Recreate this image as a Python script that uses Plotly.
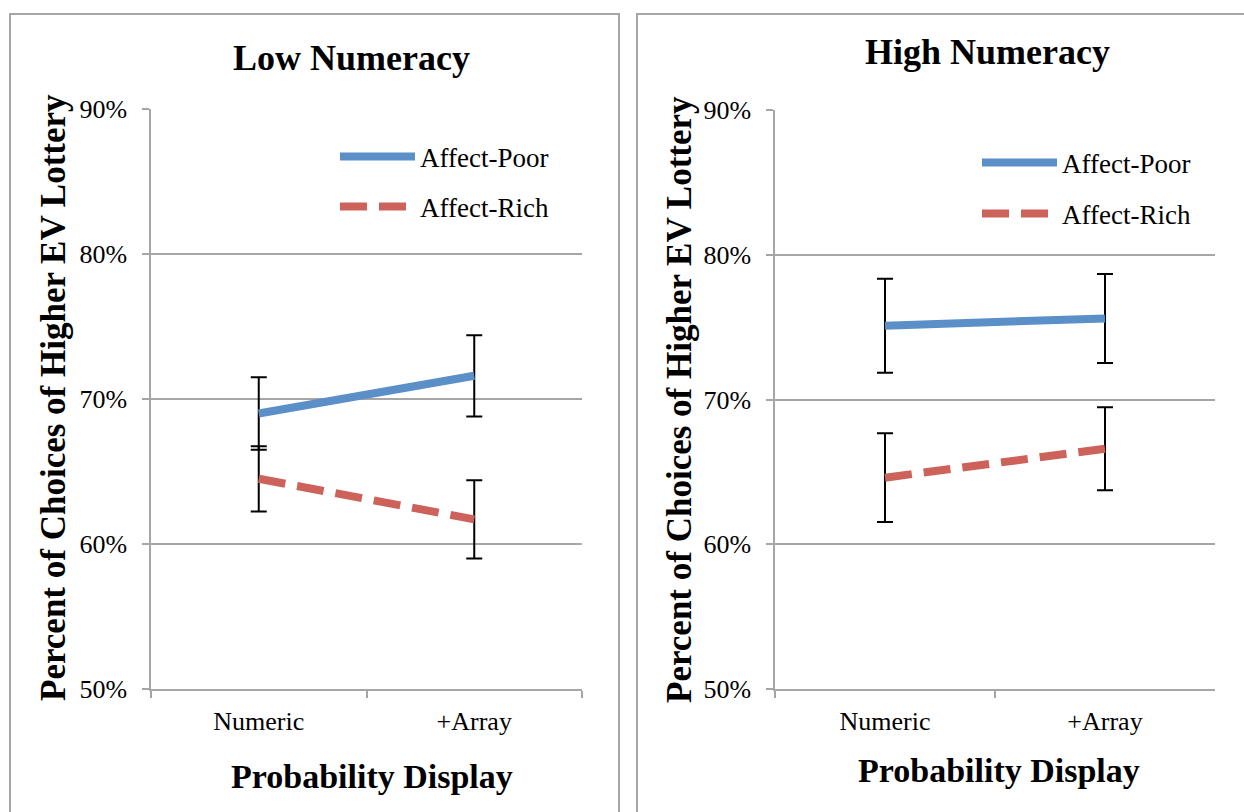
import plotly.graph_objects as go

W, H = 1244, 812

categories = ["Numeric", "+Array"]
series_names = ["Affect-Poor", "Affect-Rich"]

# Low numeracy panel (percent)
low_poor = [69.0, 71.6]
low_poor_err = [2.5, 2.8]
low_rich = [64.5, 61.7]
low_rich_err = [2.25, 2.7]

# High numeracy panel (percent)
high_poor = [75.1, 75.6]
high_poor_err = [3.25, 3.07]
high_rich = [64.6, 66.6]
high_rich_err = [3.07, 2.87]

y_ticks = [50, 60, 70, 80, 90]
y_ticktext = ["50%", "60%", "70%", "80%", "90%"]

panel_titles = ["Low Numeracy", "High Numeracy"]
x_title = "Probability Display"
y_title = "Percent of Choices of Higher EV Lottery"

FONT = "Liberation Serif"
BLUE = "#5b8fc7"
RED = "#cd625a"
GRID = "#a6a6a6"

def px_x(p):
    return p / W

def px_y(p):
    return 1 - p / H

fig = go.Figure()

panels = [
    dict(xa="x", ya="y", poor=low_poor, poor_e=low_poor_err, rich=low_rich, rich_e=low_rich_err,
         leg=("legend", "legend2")),
    dict(xa="x2", ya="y2", poor=high_poor, poor_e=high_poor_err, rich=high_rich, rich_e=high_rich_err,
         leg=("legend3", "legend4")),
]

for p in panels:
    # error bars first (behind the lines)
    for vals, errs in ((p["poor"], p["poor_e"]), (p["rich"], p["rich_e"])):
        fig.add_trace(go.Scatter(
            x=categories, y=vals, mode="markers",
            marker=dict(size=1, color="rgba(0,0,0,0)"),
            error_y=dict(type="data", array=errs, visible=True, color="black", thickness=2, width=8),
            xaxis=p["xa"], yaxis=p["ya"], showlegend=False, hoverinfo="skip",
        ))
    fig.add_trace(go.Scatter(
        x=categories, y=p["poor"], mode="lines", name=series_names[0],
        line=dict(color=BLUE, width=8),
        xaxis=p["xa"], yaxis=p["ya"], legend=p["leg"][0],
    ))
    fig.add_trace(go.Scatter(
        x=categories, y=p["rich"], mode="lines", name=series_names[1],
        line=dict(color=RED, width=8, dash="27px,12px"),
        xaxis=p["xa"], yaxis=p["ya"], legend=p["leg"][1],
    ))

axis_common = dict(showline=True, linecolor=GRID, linewidth=1.5, ticks="outside",
                   tickcolor=GRID, tickwidth=1.5, ticklen=7, zeroline=False,
                   tickfont=dict(family=FONT, size=26, color="black"))

xcommon = dict(axis_common, type="category", range=[-0.5, 1.5], tickson="boundaries",
               showgrid=False, ticklabelstandoff=8)
ycommon = dict(axis_common, range=[50, 90], tickvals=y_ticks, ticktext=y_ticktext,
               showgrid=True, gridcolor=GRID, gridwidth=1.5, ticklabelstandoff=10)

fig.update_layout(
    width=W, height=H, margin=dict(l=0, r=0, t=0, b=0, autoexpand=False),
    paper_bgcolor="white", plot_bgcolor="white",
    xaxis=dict(xcommon, domain=[px_x(151), px_x(582)], anchor="y"),
    yaxis=dict(ycommon, domain=[px_y(689), px_y(109)], anchor="x"),
    xaxis2=dict(xcommon, domain=[px_x(775), px_x(1215)], anchor="y2"),
    yaxis2=dict(ycommon, domain=[px_y(689), px_y(110)], anchor="x2"),
    showlegend=True,
)

leg_common = dict(font=dict(family=FONT, size=27, color="black"), itemwidth=75,
                  bgcolor="rgba(0,0,0,0)", borderwidth=0, xanchor="left", yanchor="middle",
                  itemclick=False, itemdoubleclick=False)
fig.update_layout(
    legend=dict(leg_common, x=px_x(335), y=px_y(157)),
    legend2=dict(leg_common, x=px_x(335), y=px_y(207)),
    legend3=dict(leg_common, x=px_x(977), y=px_y(163)),
    legend4=dict(leg_common, x=px_x(977), y=px_y(214)),
)

# panel borders
for x0, x1 in ((10, 619), (637, 1260)):
    fig.add_shape(type="rect", xref="paper", yref="paper",
                  x0=px_x(x0), x1=px_x(x1), y0=-0.05, y1=px_y(14),
                  line=dict(color=GRID, width=2), fillcolor="rgba(0,0,0,0)", layer="below")

# titles
for cx, cy, t in ((351, 58, panel_titles[0]), (988, 52, panel_titles[1])):
    fig.add_annotation(text="<b>%s</b>" % t, x=px_x(cx), y=px_y(cy), xref="paper", yref="paper",
                       showarrow=False, font=dict(family=FONT, size=36, color="black"),
                       xanchor="center", yanchor="middle")
for cx, cy in ((372, 776), (999, 770)):
    fig.add_annotation(text="<b>%s</b>" % x_title, x=px_x(cx), y=px_y(cy), xref="paper", yref="paper",
                       showarrow=False, font=dict(family=FONT, size=34, color="black"),
                       xanchor="center", yanchor="middle")
for cx, cy in ((53, 398), (679, 400)):
    fig.add_annotation(text="<b>%s</b>" % y_title, x=px_x(cx), y=px_y(cy), xref="paper", yref="paper",
                       showarrow=False, font=dict(family=FONT, size=35, color="black"),
                       textangle=-90, xanchor="center", yanchor="middle")

fig.write_html("out.html", config={"displayModeBar": False},
               post_script="document.body.style.margin='0';document.body.style.overflow='hidden';")
